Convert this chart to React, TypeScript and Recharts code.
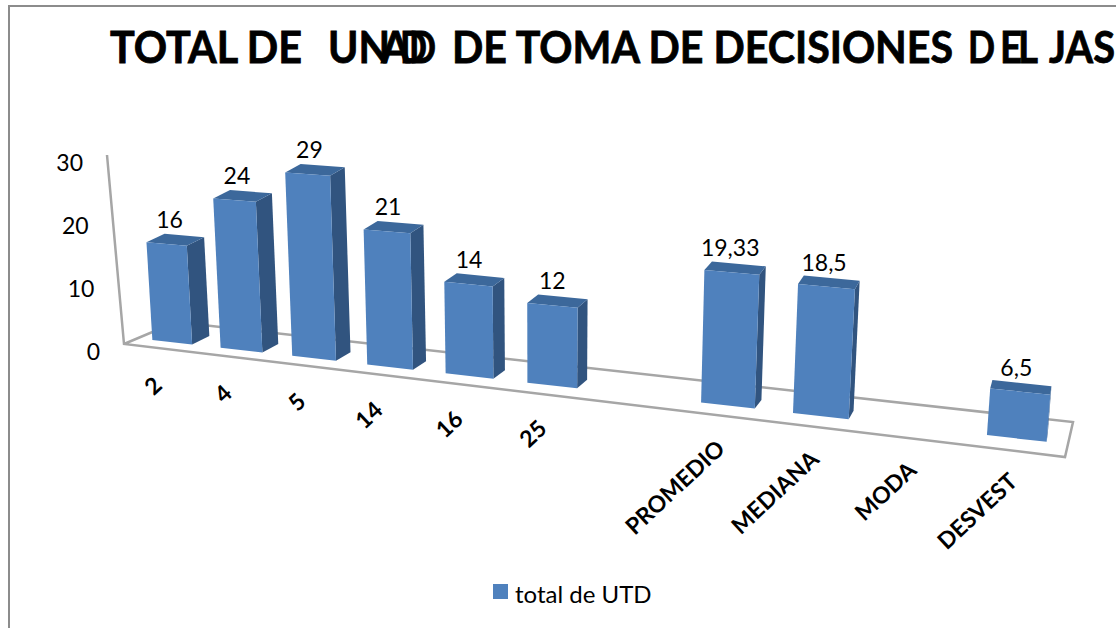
import { Bar, BarChart, LabelList, Legend, XAxis, YAxis } from 'recharts'

const categories = ['2', '4', '5', '14', '16', '25', '', 'PROMEDIO', 'MEDIANA', 'MODA', 'DESVEST']
const totals = [16, 24, 29, 21, 14, 12, null, 19.33, 18.5, null, 6.5]
const valueTicks = [0, 10, 20, 30]
const seriesName = 'total de UTD'

// the title overlaps itself in the original, so each run has its own start and width
const titleRuns = [
  { text: 'TOTAL DE', x: 110, w: 192 },
  { text: 'UN', x: 328, w: 62 },
  { text: 'A', x: 381, w: 29 },
  { text: 'D', x: 400, w: 27 },
  { text: 'D', x: 409, w: 27 },
  { text: 'DE TOMA DE DECISIONES', x: 452, w: 501 },
  { text: 'D', x: 968, w: 27 },
  { text: 'E', x: 1000, w: 22 },
  { text: 'L', x: 1018, w: 20 },
  { text: 'JAS', x: 1049, w: 66 },
]

const data = categories.map((name, i) => ({ name, total: totals[i] }))

const FONT = 'Lato, Carlito, sans-serif'
const WIDTH = 1116
const HEIGHT = 628

// flat plot that recharts lays out, projected onto the tilted floor afterwards
const PLOT_LEFT = 60
const PLOT_TOP = 60
const PLOT_W = 990
const PLOT_H = 180
const BAND = PLOT_W / categories.length
const BASE_Y = PLOT_TOP + PLOT_H

function project(x: number, y: number) {
  const t = (x - PLOT_LEFT) / BAND - 0.5
  const baseX = 172 + 67.55 * t + 1.69 * t * t
  const baseY = 340 + 0.114 * (baseX - 153)
  const h = ((BASE_Y - y) / 6) * (6.14 + 0.107 * t)
  return { x: baseX + (baseX - 540) * 0.000155 * h, y: baseY - h }
}

function depthOf(px: number) {
  return { dx: 18 - (px - 150) * 0.0188, dy: -8.5 }
}

const pts = (list: { x: number; y: number }[]) => list.map((p) => `${p.x},${p.y}`).join(' ')

function Bar3D(props: any) {
  const { x, y, width, height } = props
  if (!height) return null
  const tl = project(x, y)
  const tr = project(x + width, y)
  const bl = project(x, y + height)
  const br = project(x + width, y + height)
  const back = (p: { x: number; y: number }) => {
    const d = depthOf(p.x)
    return { x: p.x + d.dx, y: p.y + d.dy }
  }
  return (
    <g>
      <polygon points={pts([tr, back(tr), back(br), br])} fill="#31547f" />
      <polygon points={pts([tl, back(tl), back(tr), tr])} fill="#3c689b" />
      <polygon points={pts([tl, tr, br, bl])} fill="#4f81bd" />
    </g>
  )
}

function ValueLabel(props: any) {
  const { x, y, width, value } = props
  if (value == null) return null
  const p = project(x + width / 2, y)
  return (
    <text
      x={p.x + 3 - (p.x - 172) * 0.008}
      y={p.y - 16}
      textAnchor="middle"
      fontFamily={FONT}
      fontSize={23}
      fill="#000"
    >
      {String(value).replace('.', ',')}
    </text>
  )
}

function CategoryTick(props: any) {
  const { x, payload } = props
  if (!payload.value) return null
  const p = project(x, BASE_Y)
  const ax = p.x - 8.5 + (p.x - 172) * 0.0128
  const ay = p.y + 45
  return (
    <text
      x={ax}
      y={ay}
      textAnchor="end"
      fontFamily={FONT}
      fontSize={23}
      fontWeight={700}
      fill="#000"
      transform={`rotate(-43 ${ax} ${ay})`}
    >
      {payload.value}
    </text>
  )
}

function ValueTick(props: any) {
  const v = props.payload.value
  return (
    <text x={100 - (v / 30) * 17} y={360 - v * 6.3} textAnchor="end" fontFamily={FONT} fontSize={23} fill="#000">
      {v}
    </text>
  )
}

function LegendBox(props: any) {
  const item = props.payload?.[0]
  if (!item) return null
  return (
    <div style={{ position: 'relative', width: 170, height: 30, fontFamily: FONT, fontSize: 24, color: '#000' }}>
      <span style={{ position: 'absolute', left: 0, top: 6, width: 15, height: 15, background: item.color }} />
      <span style={{ position: 'absolute', left: 22, top: 1, whiteSpace: 'nowrap' }}>{item.value}</span>
    </div>
  )
}

function Frame() {
  return (
    <polyline
      points="107,155 124,344 1065,457 1073,422 176,322 124,344"
      fill="none"
      stroke="#a6a6a6"
      strokeWidth={2.5}
    />
  )
}

export default function App() {
  return (
    <div style={{ position: 'absolute', left: 0, top: 0, width: WIDTH, height: HEIGHT, background: '#fff' }}>
      <BarChart
        width={WIDTH}
        height={HEIGHT}
        data={data}
        barCategoryGap="20.7%"
        margin={{ top: PLOT_TOP, left: PLOT_LEFT - 1, right: WIDTH - PLOT_LEFT - PLOT_W, bottom: HEIGHT - PLOT_TOP - PLOT_H - 1 }}
      >
        <rect x={9} y={6} width={WIDTH} height={HEIGHT} fill="#fff" stroke="#8c8c8c" strokeWidth={2} />
        {titleRuns.map((run, i) => (
          <text
            key={i}
            x={run.x}
            y={63}
            fontFamily={FONT}
            fontSize={44}
            fontWeight={700}
            fill="#000"
            stroke="#000"
            strokeWidth={0.8}
            textLength={run.w}
            lengthAdjust="spacingAndGlyphs"
          >
            {run.text}
          </text>
        ))}
        <Frame />
        <XAxis dataKey="name" axisLine={false} tickLine={false} interval={0} height={1} tick={<CategoryTick />} />
        <YAxis domain={[0, 30]} ticks={valueTicks} axisLine={false} tickLine={false} width={1} tick={<ValueTick />} />
        <Bar dataKey="total" name={seriesName} fill="#4f81bd" shape={<Bar3D />} isAnimationActive={false}>
          <LabelList dataKey="total" content={<ValueLabel />} />
        </Bar>
        <Legend
          layout="horizontal"
          verticalAlign="middle"
          content={<LegendBox />}
          wrapperStyle={{ position: 'absolute', left: 493, top: 578, width: 'auto' }}
        />
      </BarChart>
    </div>
  )
}
